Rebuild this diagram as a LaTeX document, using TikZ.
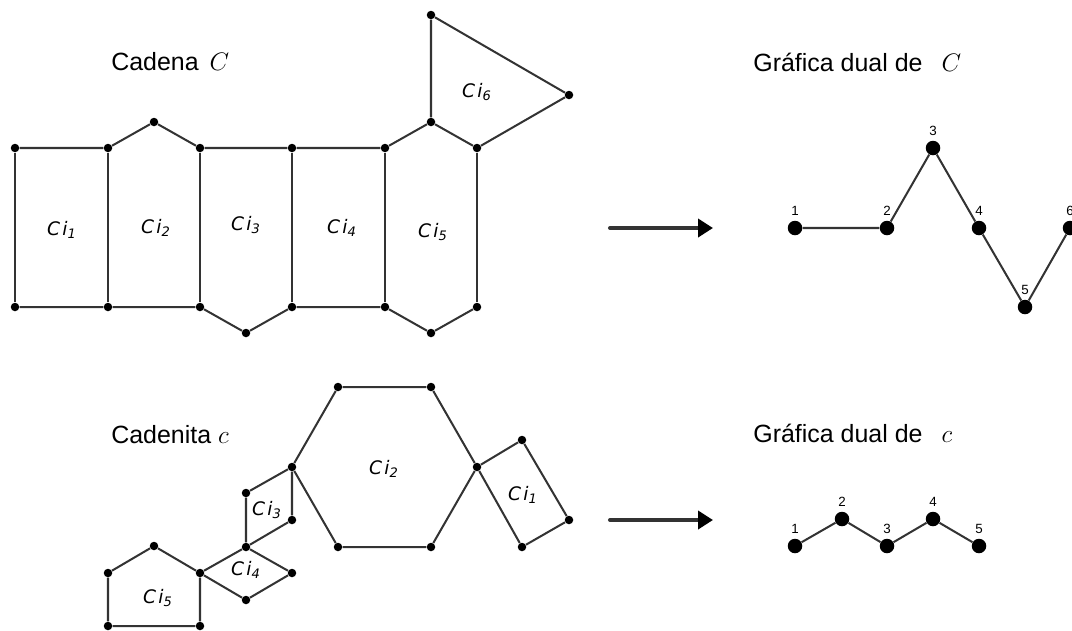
\documentclass[tikz,border=0pt]{standalone}
\usepackage{fontspec}
\setmainfont{Liberation Sans}
\newfontfamily\cifont{DejaVu Sans}
\usetikzlibrary{arrows.meta}
\definecolor{linegray}{HTML}{333333}
\newcommand{\ci}[1]{{\cifont\itshape C\kern0.12em i\textsubscript{#1}}}
\tikzset{
  vtx/.style={circle, fill=black, inner sep=0pt, minimum size=0.17cm},
  dualvtx/.style={circle, fill=black, inner sep=0pt, minimum size=0.29cm},
  edge/.style={draw=linegray, line width=1.15pt},
  cilabel/.style={font=\fontsize{10.6}{12}\selectfont, inner sep=0pt},
  title/.style={anchor=base west, font=\fontsize{14.2}{17}\selectfont, inner sep=0pt},
  numlabel/.style={font=\fontsize{7.6}{9}\selectfont, inner sep=0pt},
  maparrow/.style={draw=linegray, line width=2.3pt, line cap=round,
    -{Triangle[length=0.3cm, width=0.36cm, color=black]}},
}

\begin{document}
\begin{tikzpicture}[x=0.02cm, y=-0.02cm, label distance=0.09cm]
  \useasboundingbox (0,0) rectangle (1072,630);

  % titles
  \node[title] (tC) at (111,70) {Cadena\hspace{0.22cm}$C$};
  \node[title] (tc) at (111,443) {Cadenita $c$};
  \node[title] (tdC) at (753,71) {Gráfica dual de\hspace{0.38cm}$C$};
  \node[title] (tdc) at (753,442) {Gráfica dual de\hspace{0.38cm}$c$};

  % chain C
  \foreach \n/\x in {0/15, 1/108, 2/200, 3/292, 4/385, 5/477} {
    \node[vtx] (ta\n) at (\x,148) {};
    \node[vtx] (tb\n) at (\x,307) {};
  }
  \node[vtx] (p2) at (154,122) {};
  \node[vtx] (p3) at (246,333) {};
  \node[vtx] (p5t) at (431,122) {};
  \node[vtx] (p5b) at (431,333) {};
  \node[vtx] (q1) at (431,15) {};
  \node[vtx] (q2) at (569,95) {};
  \draw[edge] (ta0) -- (ta1) -- (p2) -- (ta2) -- (ta3) -- (ta4) -- (p5t) -- (ta5);
  \draw[edge] (tb0) -- (tb1) -- (tb2) -- (p3) -- (tb3) -- (tb4) -- (p5b) -- (tb5);
  \foreach \n in {0,...,5}
    \draw[edge] (ta\n) -- (tb\n);
  \draw[edge] (p5t) -- (q1) -- (q2) -- (ta5);
  \node[cilabel] (c1) at (62,230) {\ci{1}};
  \node[cilabel] (c2) at (156,228) {\ci{2}};
  \node[cilabel] (c3) at (246,225) {\ci{3}};
  \node[cilabel] (c4) at (342,228) {\ci{4}};
  \node[cilabel] (c5) at (433,232) {\ci{5}};
  \node[cilabel] (c6) at (477,92) {\ci{6}};

  % chain c
  \node[vtx] (h1) at (338,387) {};
  \node[vtx] (h2) at (431,387) {};
  \node[vtx] (h3) at (477,467) {};
  \node[vtx] (h4) at (431,547) {};
  \node[vtx] (h5) at (338,547) {};
  \node[vtx] (h6) at (292,467) {};
  \node[vtx] (r1) at (522,440) {};
  \node[vtx] (r2) at (569,520) {};
  \node[vtx] (r3) at (522,547) {};
  \node[vtx] (s1) at (246,493) {};
  \node[vtx] (s2) at (246,547) {};
  \node[vtx] (s3) at (292,520) {};
  \node[vtx] (u1) at (292,573) {};
  \node[vtx] (u2) at (246,600) {};
  \node[vtx] (u3) at (200,573) {};
  \node[vtx] (v1) at (154,546) {};
  \node[vtx] (v2) at (108,573) {};
  \node[vtx] (v3) at (108,626) {};
  \node[vtx] (v4) at (200,626) {};
  \draw[edge] (h1) -- (h2) -- (h3) -- (h4) -- (h5) -- (h6) -- (h1);
  \draw[edge] (h3) -- (r1) -- (r2) -- (r3) -- (h3);
  \draw[edge] (h6) -- (s1) -- (s2) -- (s3) -- (h6);
  \draw[edge] (s2) -- (u1) -- (u2) -- (u3) -- (s2);
  \draw[edge] (u3) -- (v1) -- (v2) -- (v3) -- (v4) -- (u3);
  \node[cilabel] (k1) at (523,495) {\ci{1}};
  \node[cilabel] (k2) at (384,469) {\ci{2}};
  \node[cilabel] (k3) at (267,510) {\ci{3}};
  \node[cilabel] (k4) at (246,570) {\ci{4}};
  \node[cilabel] (k5) at (158,598) {\ci{5}};

  % arrows
  \coordinate (arA0) at (610,228);
  \coordinate (arA1) at (713,228);
  \coordinate (arB0) at (610,520);
  \coordinate (arB1) at (713,520);
  \draw[maparrow] (arA0) -- (arA1);
  \draw[maparrow] (arB0) -- (arB1);

  % dual graphs
  \foreach \n/\x/\y in {1/795/228, 2/887/228, 3/933/148, 4/979/228, 5/1025/307, 6/1070/228}
    \node[dualvtx, label={[numlabel]above:\n}] (d\n) at (\x,\y) {};
  \draw[edge] (d1) -- (d2) -- (d3) -- (d4) -- (d5) -- (d6);
  \foreach \n/\x/\y in {1/795/546, 2/842/519, 3/887/546, 4/933/519, 5/979/546}
    \node[dualvtx, label={[numlabel]above:\n}] (e\n) at (\x,\y) {};
  \draw[edge] (e1) -- (e2) -- (e3) -- (e4) -- (e5);
\end{tikzpicture}
\end{document}
